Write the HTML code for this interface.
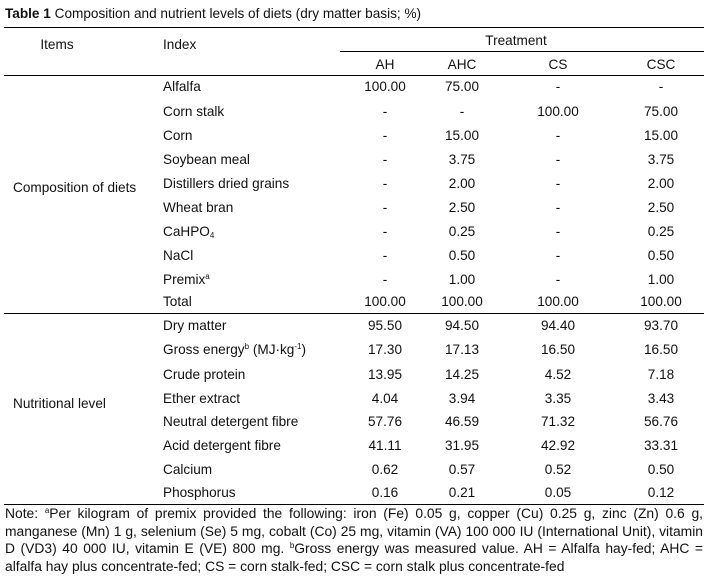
<!DOCTYPE html>
<html><head><meta charset="utf-8"><style>
body{margin:0;width:708px;height:576px;background:#fff;position:relative;font-family:"Liberation Sans",Arial,sans-serif;font-size:13.6px;color:#111;overflow:hidden}
.t{position:absolute;white-space:nowrap;line-height:16px}
.c{transform:translateX(-50%)}
.r{position:absolute;height:1px;background:#000}
sup{font-size:8px;vertical-align:5px;line-height:0}
sub{font-size:8px;vertical-align:-2px;line-height:0}
#note{position:absolute;left:5px;top:505px;width:698px;font-size:13.85px;line-height:17.5px;text-align:justify;color:#111}
</style></head><body>
<div class="t" style="left:5px;top:6px"><b>Table 1</b> Composition and nutrient levels of diets (dry matter basis; %)</div>
<div class="r" style="left:4px;width:700px;top:27px"></div>
<div class="r" style="left:340px;width:364px;top:51px"></div>
<div class="r" style="left:4px;width:700px;top:75px"></div>
<div class="r" style="left:4px;width:700px;top:313px"></div>
<div class="r" style="left:4px;width:700px;top:504px"></div>
<div class="t c" style="left:57px;top:37px">Items</div>
<div class="t" style="left:163px;top:37px">Index</div>
<div class="t c" style="left:516px;top:33px">Treatment</div>
<div class="t c" style="left:385px;top:57px">AH</div>
<div class="t c" style="left:462px;top:57px">AHC</div>
<div class="t c" style="left:558px;top:57px">CS</div>
<div class="t c" style="left:661px;top:57px">CSC</div>
<div class="t" style="left:13px;top:180px">Composition of diets</div>
<div class="t" style="left:13px;top:396px">Nutritional level</div>
<div id="rows"></div>
<div id="note">Note: <sup>a</sup>Per kilogram of premix provided the following: iron (Fe) 0.05 g, copper (Cu) 0.25 g, zinc (Zn) 0.6 g, manganese (Mn) 1 g, selenium (Se) 5 mg, cobalt (Co) 25 mg, vitamin (VA) 100 000 IU (International Unit), vitamin D (VD3) 40 000 IU, vitamin E (VE) 800 mg. <sup>b</sup>Gross energy was measured value. AH = Alfalfa hay-fed; AHC = alfalfa hay plus concentrate-fed; CS = corn stalk-fed; CSC = corn stalk plus concentrate-fed</div>
<script>
const labels=["Alfalfa","Corn stalk","Corn","Soybean meal","Distillers dried grains","Wheat bran","CaHPO<sub>4</sub>","NaCl","Premix<sup>a</sup>","Total","Dry matter","Gross energy<sup>b</sup> (MJ·kg<sup>-1</sup>)","Crude protein","Ether extract","Neutral detergent fibre","Acid detergent fibre","Calcium","Phosphorus"];
const AH=["100.00","-","-","-","-","-","-","-","-","100.00","95.50","17.30","13.95","4.04","57.76","41.11","0.62","0.16"];
const AHC=["75.00","-","15.00","3.75","2.00","2.50","0.25","0.50","1.00","100.00","94.50","17.13","14.25","3.94","46.59","31.95","0.57","0.21"];
const CS=["-","100.00","-","-","-","-","-","-","-","100.00","94.40","16.50","4.52","3.35","71.32","42.92","0.52","0.05"];
const CSC=["-","75.00","15.00","3.75","2.00","2.50","0.25","0.50","1.00","100.00","93.70","16.50","7.18","3.43","56.76","33.31","0.50","0.12"];
const tops=[79,104,128,152,176,200,224,248,272,294,318,342,367,391,414,438,462,485];
const cols=[[AH,385],[AHC,462],[CS,558],[CSC,661]];
const box=document.getElementById('rows');
labels.forEach((l,i)=>{
  const d=document.createElement('div');d.className='t';d.style.left='163px';d.style.top=tops[i]+'px';d.innerHTML=l;
  
  
  box.appendChild(d);
  cols.forEach(([arr,x])=>{
    const v=document.createElement('div');v.className='t c';v.style.left=x+'px';v.style.top=tops[i]+'px';v.textContent=arr[i];
    
    
    box.appendChild(v);
  });
});
</script>
</body></html>
